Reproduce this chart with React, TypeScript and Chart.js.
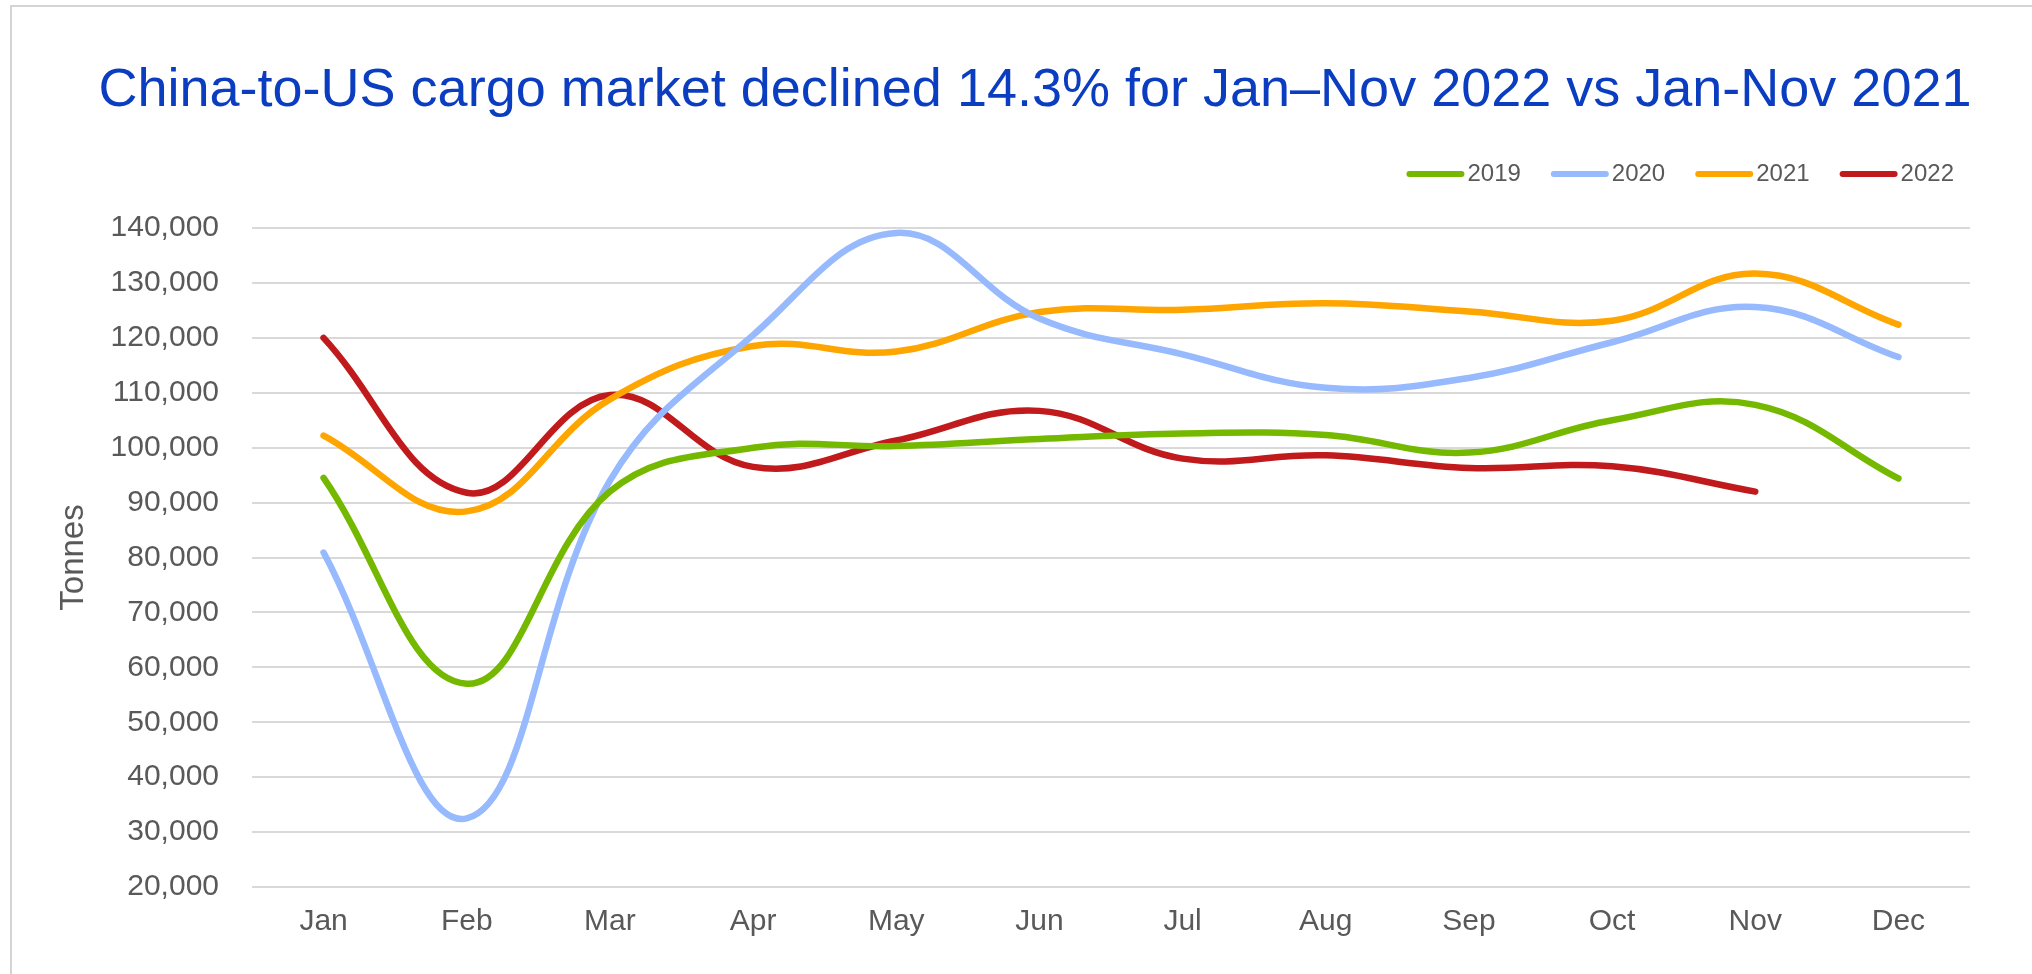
import React, { useEffect, useRef } from "react";
import { Chart, registerables } from "chart.js";

Chart.register(...registerables);

const TITLE = "China-to-US cargo market declined 14.3% for Jan–Nov 2022 vs Jan-Nov 2021";
const Y_TITLE = "Tonnes";
const months = ["Jan", "Feb", "Mar", "Apr", "May", "Jun", "Jul", "Aug", "Sep", "Oct", "Nov", "Dec"];
const seriesNames = ["2019", "2020", "2021", "2022"];
const seriesColors = ["#74b800", "#97b9fd", "#ffa500", "#c11a1c"];
const y2019 = [94500, 57000, 92000, 100000, 100300, 101600, 102600, 102300, 99100, 105000, 107800, 94400];
const y2020 = [80900, 32500, 94000, 120500, 139100, 123500, 117000, 110900, 112700, 119200, 125600, 116500];
const y2021 = [102200, 88400, 108800, 118500, 117500, 124700, 125100, 126300, 124800, 123100, 131700, 122400];
const y2022 = [120000, 91800, 109600, 96500, 101300, 106700, 98000, 98600, 96300, 96600, 92000, null];
const yMin = 20000;
const yMax = 140000;
const yStep = 10000;

const FONT = "'Liberation Sans', Arial, Helvetica, sans-serif";
const TEXT_GRAY = "#595959";

const headerPlugin = {
  id: "header",
  beforeDraw(chart: any) {
    const ctx = chart.ctx;
    ctx.save();
    ctx.fillStyle = "#ffffff";
    ctx.fillRect(0, 0, chart.width, chart.height);
    ctx.strokeStyle = "#d4d4d4";
    ctx.lineWidth = 2;
    ctx.beginPath();
    ctx.moveTo(11, chart.height);
    ctx.lineTo(11, 6);
    ctx.lineTo(chart.width, 6);
    ctx.stroke();
    ctx.restore();
  },
  afterDraw(chart: any) {
    const ctx = chart.ctx;
    ctx.save();
    // title
    ctx.font = `54px ${FONT}`;
    ctx.fillStyle = "#0b3dc1";
    ctx.textAlign = "center";
    ctx.textBaseline = "alphabetic";
    ctx.fillText(TITLE, 1035, 106);
    // legend
    ctx.font = `24px ${FONT}`;
    ctx.textAlign = "left";
    ctx.textBaseline = "middle";
    const legendY = 174;
    const swatch = 58;
    const gapText = 3;
    const gapItem = 30;
    const datasets = chart.data.datasets;
    let total = 0;
    datasets.forEach((ds: any, i: number) => {
      total += swatch + gapText + ctx.measureText(ds.label).width + (i < datasets.length - 1 ? gapItem : 0);
    });
    let x = 1954 - total;
    datasets.forEach((ds: any) => {
      ctx.strokeStyle = ds.borderColor;
      ctx.lineWidth = 6;
      ctx.lineCap = "round";
      ctx.beginPath();
      ctx.moveTo(x + 3, legendY);
      ctx.lineTo(x + swatch - 3, legendY);
      ctx.stroke();
      ctx.fillStyle = TEXT_GRAY;
      ctx.fillText(ds.label, x + swatch + gapText, legendY);
      x += swatch + gapText + ctx.measureText(ds.label).width + gapItem;
    });
    ctx.restore();
  },
};

export default function App() {
  const canvasRef = useRef<HTMLCanvasElement | null>(null);

  useEffect(() => {
    if (!canvasRef.current) return;
    const series = [y2019, y2020, y2021, y2022];
    const chart = new Chart(canvasRef.current, {
      type: "line",
      data: {
        labels: months,
        datasets: series.map((values, i) => ({
          label: seriesNames[i],
          data: values,
          borderColor: seriesColors[i],
          backgroundColor: seriesColors[i],
          borderWidth: 6.5,
          borderCapStyle: "round",
          borderJoinStyle: "round",
          pointRadius: 0,
          pointHoverRadius: 0,
          tension: 0.4,
          fill: false,
          spanGaps: false,
        })),
      },
      options: {
        responsive: false,
        animation: false,
        devicePixelRatio: 1,
        layout: { padding: { top: 228, right: 62, left: 0, bottom: 0 } },
        plugins: {
          legend: { display: false },
          title: { display: false },
          tooltip: { enabled: false },
        },
        scales: {
          x: {
            type: "category",
            offset: true,
            grid: { display: false, drawTicks: false },
            border: { display: false },
            ticks: {
              color: TEXT_GRAY,
              font: { family: FONT, size: 30 },
              padding: 17,
              maxRotation: 0,
              autoSkip: false,
            },
            afterFit: (scale: any) => {
              scale.height = 87;
            },
          },
          y: {
            min: yMin,
            max: yMax,
            grid: { color: "#d9d9d9", lineWidth: 2, drawTicks: false },
            border: { display: false },
            ticks: {
              stepSize: yStep,
              color: TEXT_GRAY,
              font: { family: FONT, size: 30 },
              padding: 33,
              callback: (v: any) => Number(v).toLocaleString("en-US"),
            },
            title: {
              display: true,
              text: Y_TITLE,
              color: TEXT_GRAY,
              font: { family: FONT, size: 33 },
              padding: { top: 54, bottom: 0 },
            },
            afterFit: (scale: any) => {
              scale.width = 252;
            },
          },
        },
      },
      plugins: [headerPlugin],
    } as any);
    return () => chart.destroy();
  }, []);

  return (
    <div
      style={{
        position: "fixed",
        left: 0,
        top: 0,
        width: 2032,
        height: 974,
        overflow: "hidden",
        background: "#ffffff",
      }}
    >
      <canvas ref={canvasRef} width={2032} height={974} style={{ display: "block", width: 2032, height: 974 }} />
    </div>
  );
}
